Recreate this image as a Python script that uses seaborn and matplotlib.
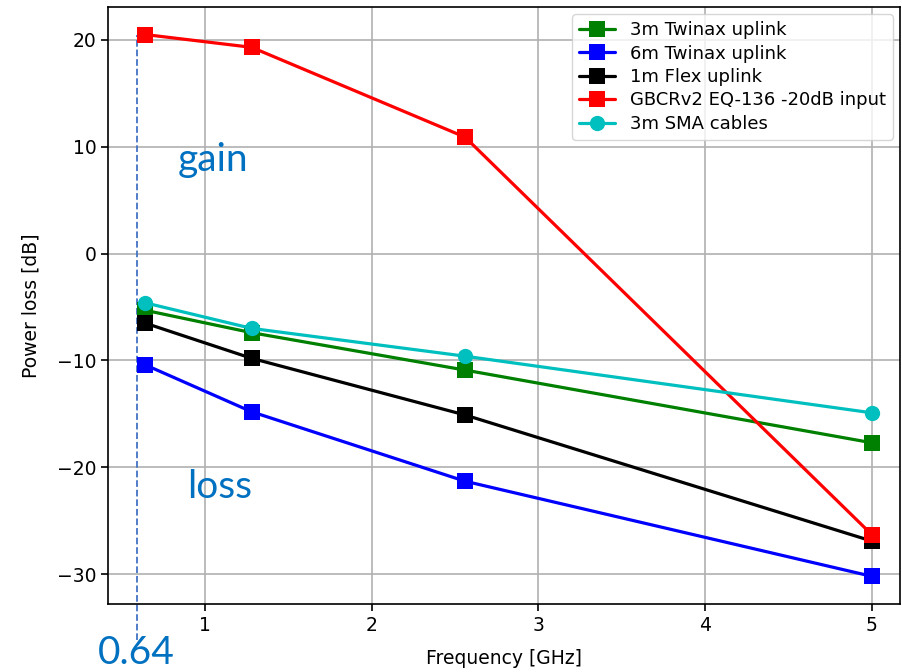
import pandas as pd
import numpy as np
import matplotlib
matplotlib.use("Agg")
import matplotlib.pyplot as plt
import seaborn as sns

# -------------------------------
# Data
# -------------------------------
freq = [0.64, 1.28, 2.56, 5.0]
series_names = ["3m Twinax uplink", "6m Twinax uplink", "1m Flex uplink",
                "GBCRv2 EQ-136 -20dB input", "3m SMA cables"]
twinax_3m = [-5.3, -7.4, -10.9, -17.7]
twinax_6m = [-10.4, -14.8, -21.3, -30.2]
flex_1m = [-6.5, -9.8, -15.1, -26.9]
gbcr_eq = [20.5, 19.3, 10.9, -26.3]
sma_3m = [-4.6, -7.0, -9.6, -14.9]
colors = ["green", "blue", "black", "red", "c"]
markers = ["s", "s", "s", "s", "o"]

rows = []
for name, vals in zip(series_names,
                      [twinax_3m, twinax_6m, flex_1m, gbcr_eq, sma_3m]):
    for f, v in zip(freq, vals):
        rows.append({"Frequency": f, "Loss": v, "Series": name})
df = pd.DataFrame(rows)

# -------------------------------
# Plot
# -------------------------------
sns.set_style("ticks")
plt.rcParams['font.family'] = ['DejaVu Sans']
plt.rcParams['text.color'] = 'black'
plt.rcParams['axes.labelcolor'] = 'black'
plt.rcParams['xtick.color'] = 'black'
plt.rcParams['ytick.color'] = 'black'

fig = plt.figure(figsize=(9.02, 6.72), dpi=100)
ax = fig.add_axes([0.12, 0.101, 0.878, 0.889])

sns.lineplot(data=df, x="Frequency", y="Loss", hue="Series", style="Series",
             hue_order=series_names, style_order=series_names,
             palette=dict(zip(series_names, colors)),
             markers=dict(zip(series_names, markers)), dashes=False,
             markersize=11, linewidth=2.3, markeredgewidth=0, ax=ax)

ax.set_xlim(0.42, 5.17)
ax.set_ylim(-32.8, 23.1)
ax.set_xticks([1, 2, 3, 4, 5])
ax.set_yticks([-30, -20, -10, 0, 10, 20])
ax.grid(True, color="#b0b0b0", linewidth=1.2)
ax.set_axisbelow(True)
for s in ax.spines.values():
    s.set_color("black")
    s.set_linewidth(1.2)
ax.tick_params(labelsize=13.5, length=5, width=1.2, color="black",
               labelcolor="black")
ax.set_xlabel("Frequency [GHz]", fontsize=13.5, labelpad=10)
ax.set_ylabel("Power loss [dB]", fontsize=13.5, labelpad=12)

leg = ax.legend(loc="upper right", fontsize=13, frameon=True,
                handlelength=2, labelspacing=0.3, borderaxespad=0.4)
leg.get_frame().set_edgecolor("#cccccc")

# annotations
blue_txt = "#0070C0"
ax.axvline(0.59, ymin=-0.06, ymax=0.953, color="#4472C4", linestyle="--",
           linewidth=1.3, clip_on=False, zorder=1)
ax.text(1.05, 8.8, "gain", color=blue_txt, fontsize=28, family="Lato",
        ha="center", va="center")
ax.text(1.09, -21.8, "loss", color=blue_txt, fontsize=28, family="Lato",
        ha="center", va="center")
ax.text(0.59, -37.4, "0.64", color=blue_txt, fontsize=28, family="Lato",
        ha="center", va="center", clip_on=False)

fig.savefig("out.png", dpi=100)
